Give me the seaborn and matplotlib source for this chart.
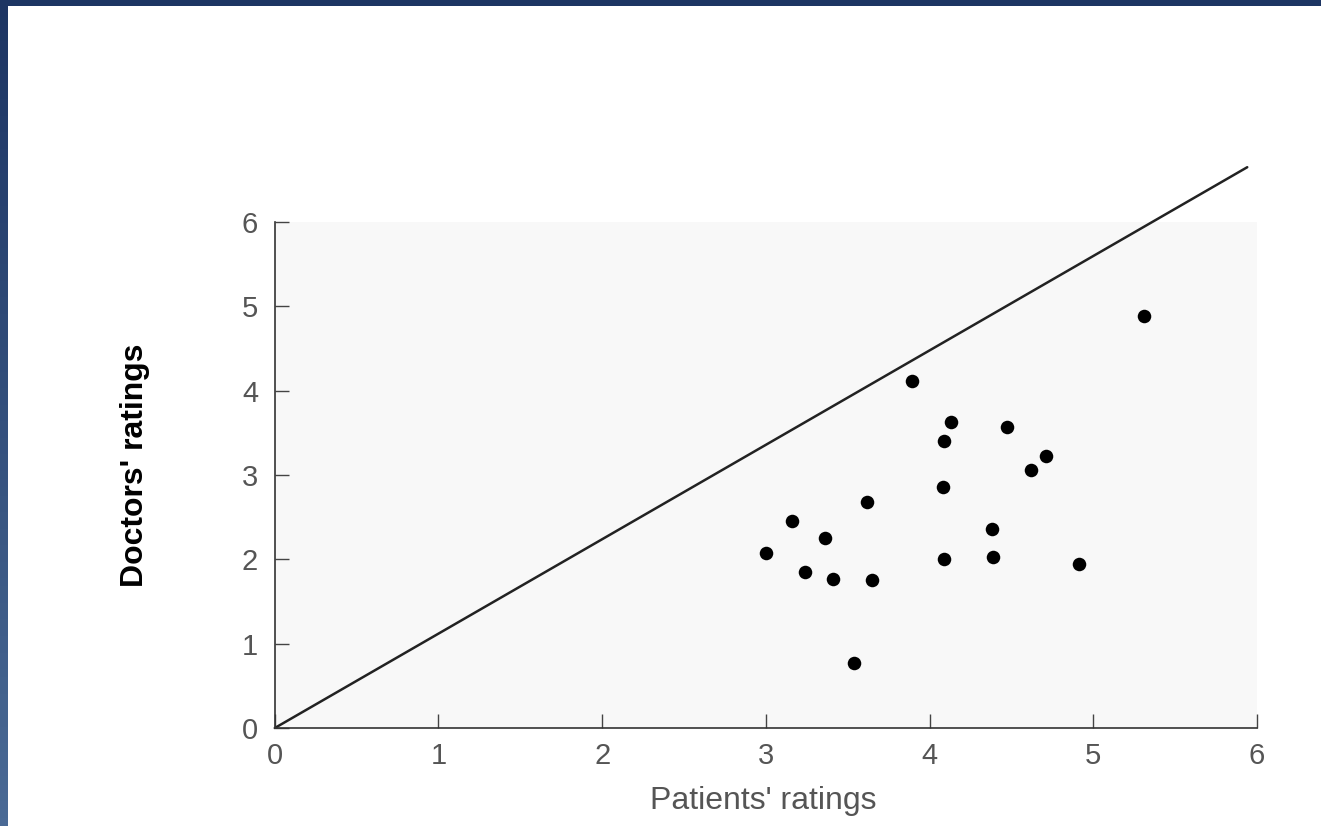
import numpy as np
import pandas as pd
import seaborn as sns
import matplotlib.pyplot as plt
from matplotlib.patches import Rectangle

# Values
patients = [3.89, 4.13, 4.47, 4.09, 4.71, 4.62, 4.08, 3.62, 3.16, 3.36,
            4.38, 3.00, 4.09, 4.39, 4.91, 3.24, 3.41, 3.65, 3.54, 5.31]
doctors = [4.12, 3.63, 3.57, 3.40, 3.23, 3.06, 2.86, 2.68, 2.46, 2.25,
           2.36, 2.07, 2.00, 2.03, 1.95, 1.85, 1.77, 1.76, 0.77, 4.89]

# Reference line drawn through the origin
line_x = [0, 5.94]
line_y = [0, 6.65]

ticks = [0, 1, 2, 3, 4, 5, 6]

data = pd.DataFrame({"patients": patients, "doctors": doctors})
line = pd.DataFrame({"x": line_x, "y": line_y})

sns.set_style("ticks")
plt.rcParams['font.family'] = ['Liberation Sans', 'DejaVu Sans']

fig = plt.figure(figsize=(13.21, 8.26), dpi=100)
fig.patch.set_facecolor("white")
ax = fig.add_axes([0.208, 0.1186, 0.7436, 0.6126])
ax.set_facecolor("#f8f8f8")

sns.lineplot(data=line, x="x", y="y", ax=ax, color="#222222", linewidth=1.8,
             clip_on=False)
sns.scatterplot(data=data, x="patients", y="doctors", ax=ax, color="black",
                s=95, edgecolor="black", linewidth=0, zorder=3)

ax.set_xlim(0, 6)
ax.set_ylim(0, 6)
ax.set_xticks(ticks)
ax.set_yticks(ticks)

sns.despine(ax=ax)
for side in ["left", "bottom"]:
    ax.spines[side].set_linewidth(1.2)
    ax.spines[side].set_color("#333333")

ax.tick_params(direction="in", length=10, width=1, labelsize=21,
               labelcolor="#555555", color="#444444")
ax.tick_params(axis="x", pad=10)
ax.tick_params(axis="y", pad=12)

ax.set_xlabel("Patients' ratings", fontsize=23, color="#555555")
ax.set_ylabel("Doctors' ratings", fontsize=23, fontweight="bold", color="black")
ax.xaxis.set_label_coords(0.497, -0.115)
ax.yaxis.set_label_coords(-0.127, 0.52)

# blue slide edge: top bar and left bar with a slight gradient
fig.patches.append(Rectangle((0, 1 - 6 / 826), 1, 6 / 826, transform=fig.transFigure,
                             facecolor="#1d3563", edgecolor="none", zorder=5))
edge_ax = fig.add_axes([0, 0, 8 / 1321, 1])
edge_ax.imshow(np.linspace(0, 1, 100).reshape(-1, 1), aspect="auto",
               cmap=sns.blend_palette(["#1d3563", "#4a6a95"], as_cmap=True))
edge_ax.set_axis_off()

fig.savefig("out.png", dpi=100)
plt.close(fig)
